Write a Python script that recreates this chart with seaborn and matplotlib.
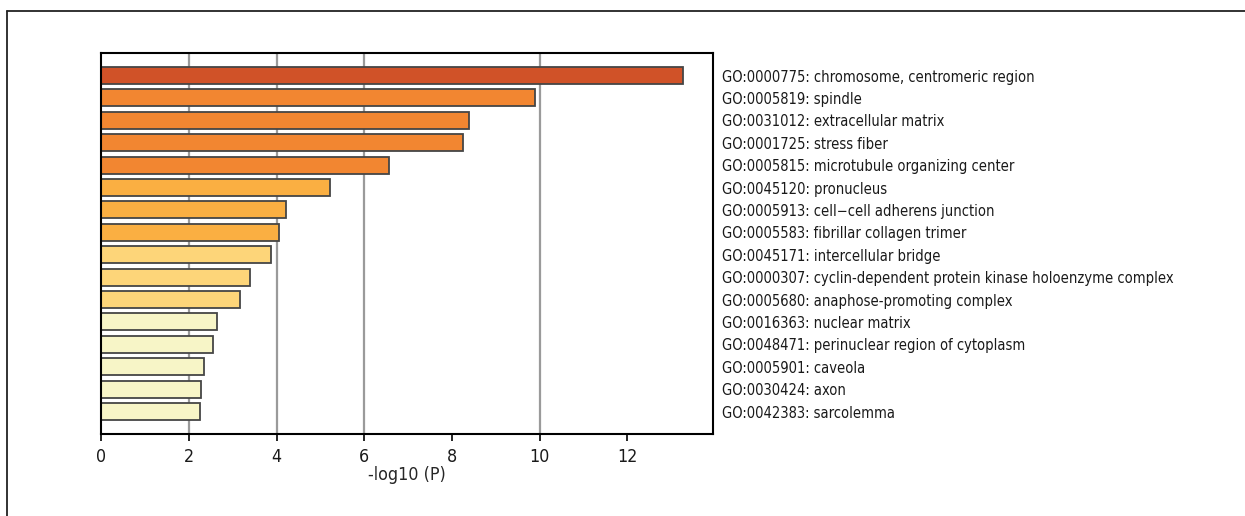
import matplotlib
matplotlib.use("Agg")
import matplotlib.pyplot as plt
import matplotlib.font_manager as fm
import pandas as pd
import seaborn as sns
from matplotlib.lines import Line2D

# GO cellular component terms, top to bottom
TERMS = [
    "GO:0000775: chromosome, centromeric region",
    "GO:0005819: spindle",
    "GO:0031012: extracellular matrix",
    "GO:0001725: stress fiber",
    "GO:0005815: microtubule organizing center",
    "GO:0045120: pronucleus",
    "GO:0005913: cell\u2212cell adherens junction",
    "GO:0005583: fibrillar collagen trimer",
    "GO:0045171: intercellular bridge",
    "GO:0000307: cyclin-dependent protein kinase holoenzyme complex",
    "GO:0005680: anaphose-promoting complex",
    "GO:0016363: nuclear matrix",
    "GO:0048471: perinuclear region of cytoplasm",
    "GO:0005901: caveola",
    "GO:0030424: axon",
    "GO:0042383: sarcolemma",
]
NEG_LOG_P = [13.27, 9.89, 8.39, 8.26, 6.56, 5.21, 4.22, 4.04,
             3.86, 3.38, 3.17, 2.64, 2.54, 2.33, 2.27, 2.24]
BAR_COLORS = ["#D05228"] + ["#F28631"] * 4 + ["#FAAF42"] * 3 + \
             ["#FDD579"] * 3 + ["#F7F5C7"] * 5

X_TICKS = [0, 2, 4, 6, 8, 10, 12]
GRID_AT = [2, 4, 6, 10]


def pick_narrow_font():
    """Find an installed narrow/condensed sans font, regular weight."""
    prefs = ["liberation sans narrow", "liberationsansnarrow", "noto sans",
             "notosans", "dejavu sans", "dejavusans", "roboto", "open sans",
             "opensans"]
    found = []
    for f in fm.fontManager.ttflist:
        path = f.fname.lower()
        narrow = f.stretch in ("condensed", "semi-condensed", "extra-condensed") \
            or "narrow" in path or "condensed" in path
        if not narrow or f.style != "normal":
            continue
        if "bold" in path or "italic" in path or "light" in path \
                or "thin" in path or "medium" in path or "black" in path:
            continue
        name = f.name.lower() + " " + path
        rank = next((i for i, p in enumerate(prefs) if p in name), len(prefs))
        # prefer plain condensed over extra-condensed variants
        if "extracondensed" in path or "extra" in path:
            rank += 0.5
        found.append((rank, f.fname))
    if found:
        found.sort()
        return found[0][1]
    return None


df = pd.DataFrame({"term": TERMS, "score": NEG_LOG_P})

sns.set_theme(style="white")
narrow_path = pick_narrow_font()
if narrow_path:
    base_fp = fm.FontProperties(fname=narrow_path)
else:
    base_fp = fm.FontProperties(family=["Roboto", "DejaVu Sans"])
plt.rcParams["font.family"] = ["Roboto", "DejaVu Sans"]

fig = plt.figure(figsize=(12.45, 5.16), dpi=100)
ax = fig.add_axes([0.0815, 0.159, 0.4910, 0.738])

# size the term labels so the longest one spans the same width as the original
renderer = fig.canvas.get_renderer()
probe_fp = base_fp.copy()
probe_fp.set_size(12.5)
probe = fig.text(0, 0, max(TERMS, key=len), fontproperties=probe_fp)
w = probe.get_window_extent(renderer).width
probe.remove()
label_size = min(13.5, 12.5 * 450.0 / w)
label_fp = base_fp.copy()
label_fp.set_size(label_size)
tick_fp = base_fp.copy()
tick_fp.set_size(12.8)

# grid lines sit behind the bars
for g in GRID_AT:
    ax.axvline(g, color="#9a9a9a", lw=1.6, zorder=0)

sns.barplot(
    data=df,
    x="score",
    y="term",
    hue="term",
    palette=BAR_COLORS,
    saturation=1,
    legend=False,
    width=0.76,
    edgecolor="#454545",
    linewidth=1.3,
    ax=ax,
    zorder=2,
)

ax.set_xlim(0, 13.95)
ax.set_ylim(len(TERMS), -1)
ax.set_xticks(X_TICKS)
ax.set_xlabel("-log10 (P)", fontproperties=tick_fp, labelpad=0)
ax.set_ylabel("")

ax.yaxis.tick_right()
ax.tick_params(axis="y", length=0, pad=7)
for lab in ax.get_yticklabels():
    lab.set_fontproperties(label_fp)
    lab.set_horizontalalignment("left")
    lab.set_color("#1a1a1a")
ax.tick_params(axis="x", length=5, width=1.2, color="black",
               direction="out", bottom=True, pad=5)
for lab in ax.get_xticklabels():
    lab.set_fontproperties(tick_fp)
    lab.set_color("#1a1a1a")

for sp in ax.spines.values():
    sp.set_visible(True)
    sp.set_color("black")
    sp.set_linewidth(1.5)

# thin frame along the top and left of the figure
fig.add_artist(Line2D([6.5 / 1245, 1.0], [1 - 10.5 / 516, 1 - 10.5 / 516],
                      transform=fig.transFigure, color="#222222", lw=1.3))
fig.add_artist(Line2D([6.5 / 1245, 6.5 / 1245], [0.0, 1 - 10.5 / 516],
                      transform=fig.transFigure, color="#222222", lw=1.3))

fig.savefig("out.png", dpi=100, facecolor="white")
